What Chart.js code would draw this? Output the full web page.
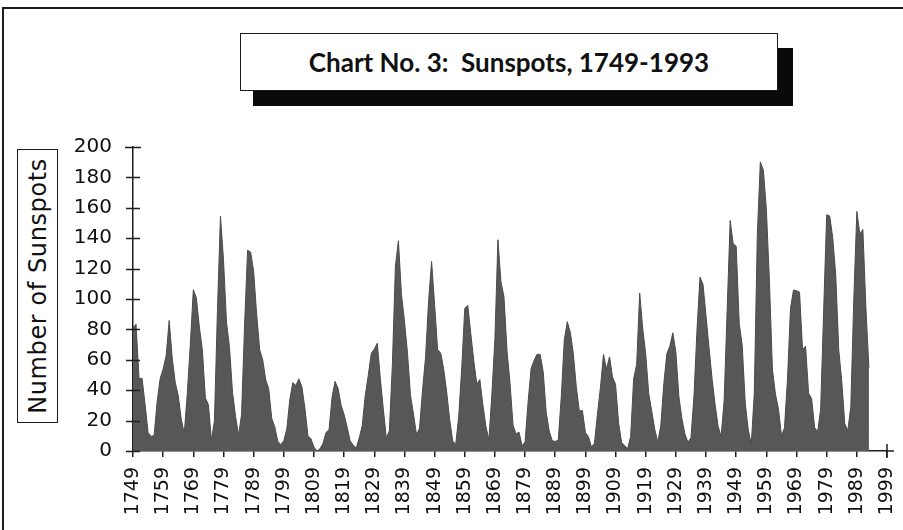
<!DOCTYPE html>
<html>
<head>
<meta charset="utf-8">
<script src="https://cdn.jsdelivr.net/npm/chart.js@4.4.1/dist/chart.umd.min.js"></script>
<style>
  html, body { margin: 0; padding: 0; background: #fff; }
  #wrap { position: relative; width: 903px; height: 530px; overflow: hidden; background: #fff; }
  #frame { position: absolute; left: 2px; top: 7px; width: 960px; height: 600px;
           border-left: 2px solid #1e1e1e; border-top: 2px solid #1e1e1e; }
  #chart { position: absolute; left: 0; top: 0; }
  #titleShadow { position: absolute; left: 253px; top: 48px; width: 540px; height: 58px; background: #0a0a0a; }
  #title { position: absolute; left: 240px; top: 33px; width: 536px; height: 56px;
           border: 1.5px solid #1a1a1a; background: #fff;
           display: flex; align-items: center; justify-content: center;
           font-family: Lato, "Open Sans", sans-serif; font-weight: 700; font-size: 26px;
           color: #111; white-space: pre; }
  #ytitle { position: absolute; left: 17px; top: 149px; width: 39px; height: 272px;
            border: 1.5px solid #1a1a1a; background: #fff; }
  #ytitle span { position: absolute; left: 50%; top: 50%;
                 transform: translate(-50%, -50%) rotate(-90deg);
                 white-space: nowrap; font-family: "DejaVu Sans", sans-serif; font-size: 24px;
                 letter-spacing: 0.6px; color: #111; }
</style>
</head>
<body>
<div id="wrap">
  <div id="frame"></div>
  <canvas id="chart" width="903" height="530"></canvas>
  <div id="titleShadow"></div>
  <div id="title">Chart No. 3:  Sunspots, 1749-1993</div>
  <div id="ytitle"><span>Number of Sunspots</span></div>
</div>
<script>
// Yearly mean sunspot numbers, 1749-1993
const firstYear = 1749;
const sunspots = [
  80.9, 83.4, 47.7, 47.8, 30.7, 12.2, 9.6, 10.2, 32.4, 47.6,      // 1749-1758
  54.0, 62.9, 85.9, 61.2, 45.1, 36.4, 20.9, 11.4, 37.8, 69.8,     // 1759-1768
  106.1, 100.8, 81.6, 66.5, 34.8, 30.6, 7.0, 19.8, 92.5, 154.4,   // 1769-1778
  125.9, 84.8, 68.1, 38.5, 22.8, 10.2, 24.1, 82.9, 132.0, 130.9,  // 1779-1788
  118.1, 89.9, 66.6, 60.0, 46.9, 41.0, 21.3, 16.0, 6.4, 4.1,      // 1789-1798
  6.8, 14.5, 34.0, 45.0, 43.1, 47.5, 42.2, 28.1, 10.1, 8.1,       // 1799-1808
  2.5, 0.0, 1.4, 5.0, 12.2, 13.9, 35.4, 45.8, 41.1, 30.1,         // 1809-1818
  23.9, 15.6, 6.6, 4.0, 1.8, 8.5, 16.6, 36.3, 49.6, 64.2,         // 1819-1828
  67.0, 70.9, 47.8, 27.5, 8.5, 13.2, 56.9, 121.5, 138.3, 103.2,   // 1829-1838
  85.7, 64.6, 36.7, 24.2, 10.7, 15.0, 40.1, 61.5, 98.5, 124.7,    // 1839-1848
  96.3, 66.6, 64.5, 54.1, 39.0, 20.6, 6.7, 4.3, 22.7, 54.8,       // 1849-1858
  93.8, 95.8, 77.2, 59.1, 44.0, 47.0, 30.5, 16.3, 7.3, 37.6,      // 1859-1868
  74.0, 139.0, 111.2, 101.6, 66.2, 44.7, 17.0, 11.3, 12.4, 3.4,   // 1869-1878
  6.0, 32.3, 54.3, 59.7, 63.7, 63.5, 52.2, 25.4, 13.1, 6.8,       // 1879-1888
  6.3, 7.1, 35.6, 73.0, 85.1, 78.0, 64.0, 41.8, 26.2, 26.7,       // 1889-1898
  12.1, 9.5, 2.7, 5.0, 24.4, 42.0, 63.5, 53.8, 62.0, 48.5,        // 1899-1908
  43.9, 18.6, 5.7, 3.6, 1.4, 9.6, 47.4, 57.1, 103.9, 80.6,        // 1909-1918
  63.6, 37.6, 26.1, 14.2, 5.8, 16.7, 44.3, 63.9, 69.0, 77.8,      // 1919-1928
  64.9, 35.7, 21.2, 11.1, 5.7, 8.7, 36.1, 79.7, 114.4, 109.6,     // 1929-1938
  88.8, 67.8, 47.5, 30.6, 16.3, 9.6, 33.2, 92.6, 151.6, 136.3,    // 1939-1948
  134.7, 83.9, 69.4, 31.5, 13.9, 4.4, 38.0, 141.7, 190.2, 184.8,  // 1949-1958
  159.0, 112.3, 53.9, 37.5, 27.9, 10.2, 15.1, 47.0, 93.8, 105.9,  // 1959-1968
  105.5, 104.5, 66.6, 68.9, 38.0, 34.5, 15.5, 12.6, 27.5, 92.5,   // 1969-1978
  155.4, 154.6, 140.4, 115.9, 66.6, 45.9, 17.9, 13.4, 29.2, 100.2,// 1979-1988
  157.6, 142.6, 145.7, 94.3, 54.6                                 // 1989-1993
];
const years = sunspots.map((_, i) => firstYear + i);
const xTickYears = [1749, 1759, 1769, 1779, 1789, 1799, 1809, 1819, 1829, 1839, 1849, 1859, 1869,
                    1879, 1889, 1899, 1909, 1919, 1929, 1939, 1949, 1959, 1969, 1979, 1989, 1999];
const yTickValues = [0, 20, 40, 60, 80, 100, 120, 140, 160, 180, 200];

const axisColor = '#1e1e1e';

const crossTicks = {
  id: 'crossTicks',
  afterDraw(chart) {
    const { ctx, scales: { x, y } } = chart;
    ctx.save();
    ctx.strokeStyle = axisColor;
    ctx.lineWidth = 1.5;
    ctx.beginPath();
    // y axis tick crosses
    yTickValues.forEach(v => {
      const py = Math.round(y.getPixelForValue(v)) + 0.5;
      const half = v === yTickValues[yTickValues.length - 1] ? 8 : 7;
      ctx.moveTo(x.left - half, py);
      ctx.lineTo(x.left + half, py);
    });
    // extend x axis and draw cross at the end
    const x0 = y.getPixelForValue(0);
    const xEnd = x.getPixelForValue(xTickYears[xTickYears.length - 1]);
    ctx.moveTo(x.right, x0);
    ctx.lineTo(x.right + 7, x0);
    ctx.moveTo(xEnd, x0 - 7);
    ctx.lineTo(xEnd, x0 + 7);
    ctx.stroke();
    ctx.restore();
  }
};

new Chart(document.getElementById('chart'), {
  type: 'line',
  data: {
    datasets: [{
      data: years.map((yr, i) => ({ x: yr, y: sunspots[i] })),
      fill: 'origin',
      backgroundColor: '#575757',
      borderColor: '#4a4a4a',
      borderWidth: 1,
      pointRadius: 0,
      tension: 0
    }]
  },
  options: {
    responsive: false,
    animation: false,
    events: [],
    layout: { padding: { left: 0, top: 147, right: 16, bottom: 0 } },
    plugins: { legend: { display: false }, tooltip: { enabled: false }, title: { display: false } },
    scales: {
      x: {
        type: 'linear',
        min: 1749,
        max: 1999,
        afterBuildTicks: s => { s.ticks = xTickYears.map(v => ({ value: v })); },
        afterFit: s => { s.height = 79; s.paddingLeft = 0; s.paddingRight = 0; },
        ticks: {
          autoSkip: false,
          minRotation: 90,
          maxRotation: 90,
          padding: 10,
          color: '#111',
          font: { family: 'DejaVu Sans', size: 19 },
          callback: v => String(v)
        },
        grid: { drawOnChartArea: false, drawTicks: true, tickLength: 6, color: axisColor, lineWidth: 1.5 },
        border: { display: true, color: axisColor, width: 1.5 }
      },
      y: {
        type: 'linear',
        min: 0,
        max: 200,
        afterBuildTicks: s => { s.ticks = yTickValues.map(v => ({ value: v })); },
        afterFit: s => { s.width = 133; },
        ticks: {
          padding: 21,
          color: '#111',
          font: { family: 'DejaVu Sans', size: 20 },
          callback: v => String(v)
        },
        grid: { drawOnChartArea: false, drawTicks: false, color: axisColor },
        border: { display: true, color: axisColor, width: 1.5 }
      }
    }
  },
  plugins: [crossTicks]
});
</script>
</body>
</html>
